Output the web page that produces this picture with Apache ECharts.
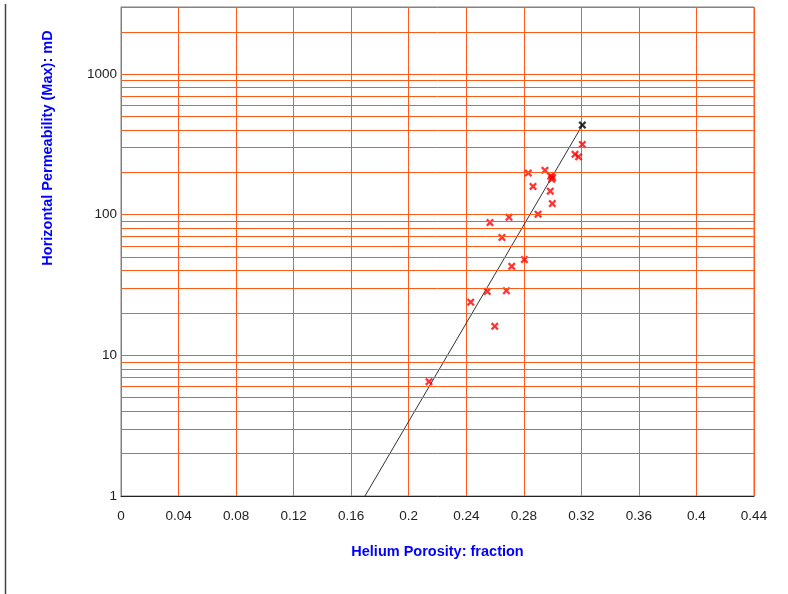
<!DOCTYPE html>
<html>
<head>
<meta charset="utf-8">
<script src="https://cdn.jsdelivr.net/npm/echarts@6/dist/echarts.min.js"></script>
<style>html,body{margin:0;padding:0;background:#fff}#c{width:788px;height:594px}</style>
</head>
<body>
<div id="c"></div>
<script>
// Helium porosity (fraction) vs horizontal permeability (mD)
const porosity = [0.3207, 0.3156, 0.3181, 0.2831, 0.2947, 0.2987, 0.3000, 0.2994, 0.2864, 0.2984, 0.2998, 0.2899, 0.2697, 0.2565, 0.2648, 0.2804, 0.2716, 0.2546, 0.2679, 0.2431, 0.2598, 0.2141];
const permeability = [316, 269, 258, 198, 207, 188, 184, 179, 159, 147, 120, 101, 96, 88, 69, 48, 43, 28.5, 28.8, 23.9, 16.1, 6.5];
const highlightPorosity = [0.3207];
const highlightPermeability = [434];
const trendPorosity = [0.1696, 0.3207];
const trendPermeability = [1, 434];
const xTicks = [0, 0.04, 0.08, 0.12, 0.16, 0.2, 0.24, 0.28, 0.32, 0.36, 0.4, 0.44];
const yLabels = [1, 10, 100, 1000];
const yGridValues = [2,3,4,5,6,7,8,9,10,20,30,40,50,60,70,80,90,100,200,300,400,500,600,700,800,900,1000,2000,3000];

const xSym = 'path://M2,0 L5,3 L8,0 L10,2 L7,5 L10,8 L8,10 L5,7 L2,10 L0,8 L3,5 L0,2 Z';
const chart = echarts.init(document.getElementById('c'), null, {renderer: 'canvas'});
const gridColor = '#FF5A1A';
const font = '"Liberation Sans", Arial, sans-serif';

chart.setOption({
  animation: false,
  backgroundColor: '#fff',
  grid: {left: 121, right: 34, top: 7, bottom: 98, show: true, borderColor: '#808080', borderWidth: 1},
  xAxis: {
    type: 'value', min: xTicks[0], max: xTicks[xTicks.length - 1], interval: 0.04,
    name: 'Helium Porosity: fraction', nameLocation: 'middle', nameGap: 48,
    nameTextStyle: {color: '#0000FF', fontWeight: 'bold', fontSize: 14.5, fontFamily: font},
    axisLine: {show: true, lineStyle: {color: '#222', width: 1}},
    axisTick: {show: false},
    axisLabel: {color: '#222', fontSize: 13.5, fontFamily: font, margin: 13},
    splitLine: {show: true, lineStyle: {color: gridColor, width: 1}}
  },
  yAxis: {
    type: 'log', logBase: 10, min: 1, max: 3000,
    axisLine: {show: true, lineStyle: {color: '#808080', width: 1}},
    axisTick: {show: false},
    axisLabel: {
      color: '#222', fontSize: 13.5, fontFamily: font, margin: 4,
      showMaxLabel: false,
      formatter: v => (yLabels.some(l => Math.abs(l - v) < 1e-6 * l) ? String(Math.round(v)) : '')
    },
    splitLine: {show: false}
  },
  graphic: [
    {type: 'line', shape: {x1: 5.5, y1: 4, x2: 5.5, y2: 594}, style: {stroke: '#444', lineWidth: 1.5}, z: 10},
    {type: 'text', x: 48, y: 148, rotation: Math.PI / 2,
     style: {text: 'Horizontal Permeability (Max): mD', fill: '#0000FF', font: 'bold 14.5px "Liberation Sans", Arial', textAlign: 'center', textVerticalAlign: 'middle'}, z: 10}
  ],
  series: [
    {
      type: 'line', data: [], silent: true,
      markLine: {
        silent: true, symbol: 'none', label: {show: false},
        lineStyle: {color: gridColor, width: 1, type: 'solid', opacity: 1},
        emphasis: {disabled: true},
        data: yGridValues.map(v => ({yAxis: v}))
      },
      z: 1
    },
    {
      type: 'line', data: trendPorosity.map((x, i) => [x, trendPermeability[i]]),
      symbol: 'none', lineStyle: {color: '#333', width: 1}, z: 3
    },
    {
      type: 'scatter', data: porosity.map((x, i) => [x, permeability[i]]),
      symbol: xSym, symbolSize: 8, itemStyle: {color: '#FF0000'}, z: 4
    },
    {
      type: 'scatter', data: highlightPorosity.map((x, i) => [x, highlightPermeability[i]]),
      symbol: xSym, symbolSize: 8, itemStyle: {color: '#000000'}, z: 5
    }
  ]
});
</script>
</body>
</html>
